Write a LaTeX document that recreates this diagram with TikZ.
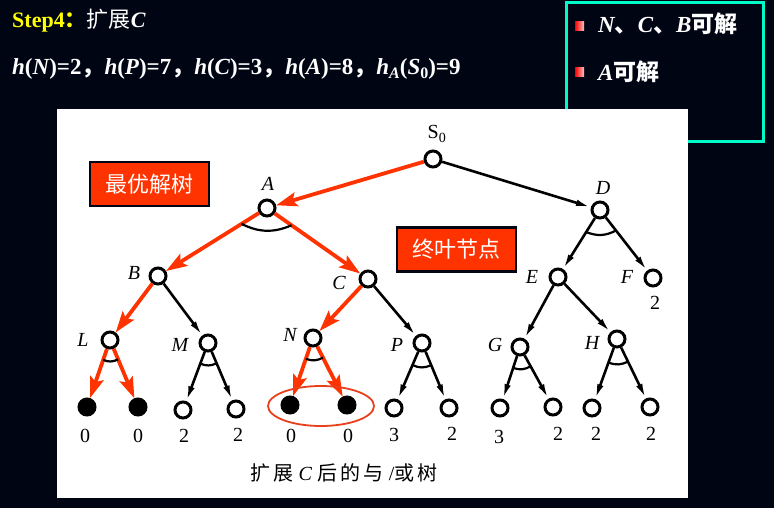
\documentclass[tikz,border=0pt]{standalone}
\usepackage{fontspec}
\setmainfont{Liberation Serif}
\newfontfamily\cjk{Noto Sans CJK SC}
\usetikzlibrary{arrows.meta,calc}

\definecolor{bg}{RGB}{0,5,20}
\definecolor{hot}{RGB}{255,51,0}
\definecolor{frameline}{RGB}{0,250,200}
\definecolor{stepyellow}{RGB}{255,255,0}
\definecolor{ringred}{RGB}{232,64,28}

\newcommand{\bi}[1]{{\bfseries\itshape #1}}
\newcommand{\sm}[1]{\raisebox{-0.35ex}{\fontsize{16}{16}\selectfont #1}}
\newcommand{\zh}[1]{{\cjk\mdseries #1}}

\begin{document}
\begin{tikzpicture}[x=1pt,y=-1pt,
  st/.style={circle,draw=black,line width=3pt,minimum size=16pt,inner sep=0pt,fill=white},
  sol/.style={st,fill=black},
  lab/.style={inner sep=0pt,font=\fontsize{20}{20}\selectfont\itshape},
  val/.style={inner sep=0pt,font=\fontsize{20}{20}\selectfont},
  andarc/.style={line width=2.2pt},
  plain/.style={line width=2.6pt,-{Latex[length=15pt,width=6.5pt]}},
  best/.style={hot,line width=3.8pt,-{Stealth[length=21pt,width=14pt,inset=4pt]}},
  tag/.style={fill=hot,draw=bg,line width=2.5pt,text=white,inner sep=0pt,
    font=\cjk\fontsize{22}{22}\selectfont,minimum width=119pt,minimum height=44pt},
  toptext/.style={inner sep=0pt,anchor=base west,text=white}]

% background, panel and frame
\fill[bg] (0,0) rectangle (774,508);
\useasboundingbox (0,0) rectangle (774,508);
\draw[frameline,line width=3pt] (566,3) rectangle (763,142);
\fill[white] (57,109) rectangle (688,498);

% heading
\node[toptext,font=\fontsize{22}{22}\selectfont\bfseries] (title) at (12,28)
  {{\color{stepyellow}Step4{\cjk ：}}\zh{扩展}\bi{C}};
\node[toptext,font=\fontsize{23}{23}\selectfont\bfseries] (values) at (12,75)
  {\bi{h}(\bi{N})=2{\cjk ，}\bi{h}(\bi{P})=7{\cjk ，}\bi{h}(\bi{C})=3{\cjk ，}\bi{h}(\bi{A})=8{\cjk ，}\bi{h}\sm{\bi{A}}(\bi{S}\sm{0})=9};

% notes in the frame
\shade[left color=red,right color=red!25] (575,22) rectangle (584,31);
\shade[left color=red,right color=red!25] (575,68) rectangle (584,77);
\node[toptext,font=\fontsize{23}{23}\selectfont\bfseries] (note1) at (598,33)
  {\bi{N}{\cjk 、}\bi{C}{\cjk 、}\bi{B}{\cjk 可解}};
\node[toptext,font=\fontsize{23}{23}\selectfont\bfseries] (note2) at (598,81)
  {\bi{A}{\cjk 可解}};

% tree nodes
\node[st] (S0) at (433,159) {};
\node[st] (A) at (267,208) {};
\node[st] (D) at (600,210) {};
\node[st] (B) at (158,276) {};
\node[st] (C) at (368,279) {};
\node[st] (E) at (558,277) {};
\node[st] (F) at (653,278) {};
\node[st] (L) at (110,340) {};
\node[st] (M) at (208,343) {};
\node[st] (N) at (313,338) {};
\node[st] (P) at (422,343) {};
\node[st] (G) at (520,347) {};
\node[st] (H) at (617,339) {};
\node[sol] (l1) at (87,407) {};
\node[sol] (l2) at (138,407) {};
\node[st] (m1) at (183,410) {};
\node[st] (m2) at (236,409) {};
\node[sol] (n1) at (290,405) {};
\node[sol] (n2) at (347,405) {};
\node[st] (p1) at (394,408) {};
\node[st] (p2) at (449,408) {};
\node[st] (g1) at (500,408) {};
\node[st] (g2) at (553,407) {};
\node[st] (h1) at (592,408) {};
\node[st] (h2) at (650,407) {};

% node names
\node[lab,font=\fontsize{20}{20}\selectfont] (tS0) at (437,134) {S\textsubscript{0}};
\node[lab] (tA) at (268,184) {A};
\node[lab] (tD) at (603,188) {D};
\node[lab] (tB) at (134,273) {B};
\node[lab] (tC) at (339,283) {C};
\node[lab] (tE) at (532,277) {E};
\node[lab] (tF) at (627,277) {F};
\node[lab] (tL) at (83,340) {L};
\node[lab] (tM) at (180,345) {M};
\node[lab] (tN) at (290,335) {N};
\node[lab] (tP) at (397,345) {P};
\node[lab] (tG) at (495,345) {G};
\node[lab] (tH) at (592,343) {H};

% values
\node[val] (vF) at (655,303) {2};
\node[val] (vl1) at (85,436) {0};
\node[val] (vl2) at (138,436) {0};
\node[val] (vm1) at (184,436) {2};
\node[val] (vm2) at (238,435) {2};
\node[val] (vn1) at (291,436) {0};
\node[val] (vn2) at (348,436) {0};
\node[val] (vp1) at (394,435) {3};
\node[val] (vp2) at (452,434) {2};
\node[val] (vg1) at (499,437) {3};
\node[val] (vg2) at (558,434) {2};
\node[val] (vh1) at (596,434) {2};
\node[val] (vh2) at (651,434) {2};

% ordinary connectors
\draw[plain] (S0) -- (D);
\draw[plain] (D) -- (E);
\draw[plain] (D) -- (F);
\draw[plain] (B) -- (M);
\draw[plain] (C) -- (P);
\draw[plain] (E) -- (G);
\draw[plain] (E) -- (H);
\draw[plain] (M) -- (m1);
\draw[plain] (M) -- (m2);
\draw[plain] (P) -- (p1);
\draw[plain] (P) -- (p2);
\draw[plain] (G) -- (g1);
\draw[plain] (G) -- (g2);
\draw[plain] (H) -- (h1);
\draw[plain] (H) -- (h2);

% solution tree
\draw[best] (S0) -- (A);
\draw[best] (A) -- (B);
\draw[best] (A) -- (C);
\draw[best] (B) -- (L);
\draw[best] (C) -- (N);
\draw[best] (L) -- (l1);
\draw[best] (L) -- (l2);
\draw[best] (N) -- (n1);
\draw[best] (N) -- (n2);

% AND arcs
\draw[andarc] ($(A)!30pt!(B)$) to[bend right=25] ($(A)!30pt!(C)$);
\draw[andarc] ($(D)!26pt!(E)$) to[bend right=25] ($(D)!26pt!(F)$);
\draw[andarc] ($(L)!21pt!(l1)$) to[bend right=25] ($(L)!21pt!(l2)$);
\draw[andarc] ($(M)!22pt!(m1)$) to[bend right=25] ($(M)!22pt!(m2)$);
\draw[andarc] ($(N)!22pt!(n1)$) to[bend right=25] ($(N)!22pt!(n2)$);
\draw[andarc] ($(P)!24pt!(p1)$) to[bend right=25] ($(P)!24pt!(p2)$);
\draw[andarc] ($(G)!22pt!(g1)$) to[bend right=25] ($(G)!22pt!(g2)$);
\draw[andarc] ($(H)!25pt!(h1)$) to[bend right=25] ($(H)!25pt!(h2)$);

% terminal leaves ring
\draw[ringred,line width=1.8pt] (321,406) ellipse [x radius=53pt,y radius=20pt];

% tags
\node[tag] (best) at (149.5,184) {最优解树};
\node[tag] (term) at (456.5,249.5) {终叶节点};

% caption
\node[inner sep=0pt,font=\fontsize{20}{20}\selectfont] (cap) at (344,473)
  {\zh{扩\,展}\ \textit{C}\ \zh{后\,的\,与}\ /\zh{或\,树}};
\end{tikzpicture}
\end{document}
